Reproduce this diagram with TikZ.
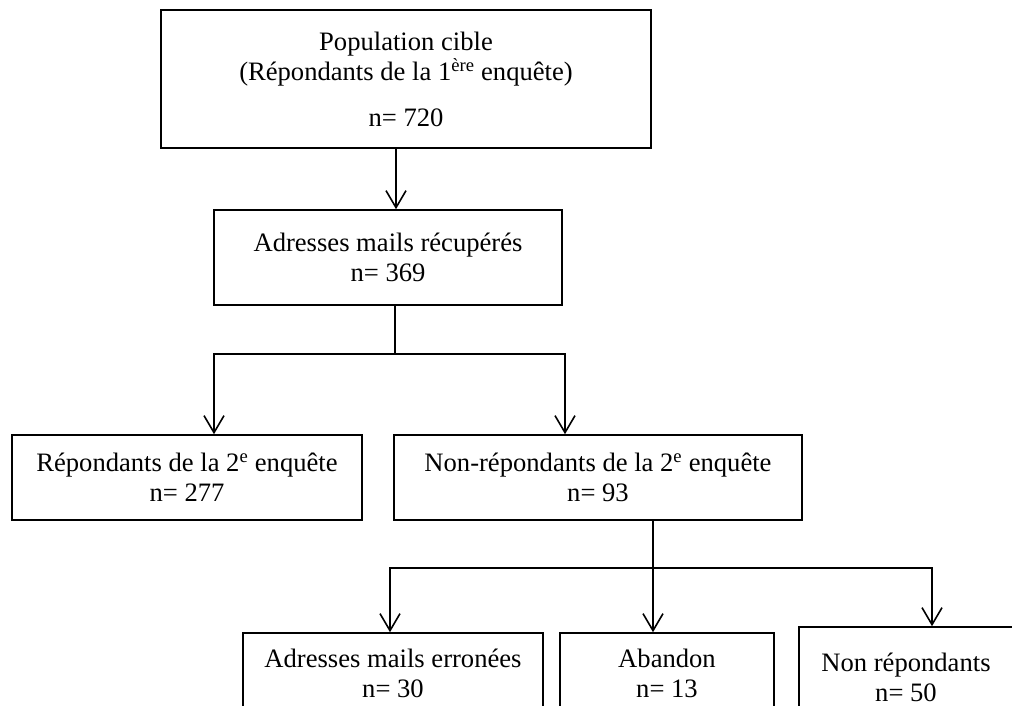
\documentclass[tikz,border=0pt]{standalone}
\usepackage{fontspec}
\setmainfont{Liberation Serif}
\usetikzlibrary{arrows.meta}

\tikzset{
  box/.style={draw, line width=1.6pt, align=center, inner sep=0pt},
  ln/.style={line width=1.6pt},
  arr/.style={ln, -{Straight Barb[length=17pt,width=20pt,line width=1.6pt]}}
}

\begin{document}
\begin{tikzpicture}[x=1pt,y=-1pt,font=\fontsize{26.6}{30}\selectfont]
  \useasboundingbox (0,0) rectangle (1012,705);

  \node (pop) [box,minimum width=490pt,minimum height=138pt] at (406,79)
    {Population cible\\(Répondants de la 1\textsuperscript{ère} enquête)\\[16pt]n= 720};
  \node (adr) [box,minimum width=348pt,minimum height=95pt] at (388,257.5)
    {Adresses mails récupérés\\n= 369};
  \node (rep) [box,minimum width=350pt,minimum height=85pt] at (187,477.5)
    {Répondants de la 2\textsuperscript{e} enquête\\n= 277};
  \node (nrep) [box,minimum width=408pt,minimum height=85pt] at (598,477.5)
    {Non-répondants de la 2\textsuperscript{e} enquête\\n= 93};
  \node (err) [box,minimum width=300pt,minimum height=81pt] at (393,673.5)
    {Adresses mails erronées\\n= 30};
  \node (aban) [box,minimum width=214pt,minimum height=81pt] at (667,673.5)
    {Abandon\\n= 13};
  \node (nonr) [box,minimum width=214pt,minimum height=101pt] at (906,677.5)
    {Non répondants\\n= 50};

  \draw[arr] ([xshift=-10pt]pop.south) -- ([xshift=-10pt]pop.south |- adr.north);

  \coordinate (j1) at ([xshift=7pt,yshift=-48pt]adr.south);
  \draw[ln] ([xshift=7pt]adr.south) -- (j1);
  \draw[arr] (j1) -| ([xshift=27pt]rep.north);
  \draw[arr] (j1) -| ([xshift=-33pt]nrep.north);

  \coordinate (j2) at ([xshift=55pt,yshift=-47pt]nrep.south);
  \draw[arr] ([xshift=55pt]nrep.south) -- ([xshift=55pt]nrep.south |- aban.north);
  \draw[arr] (j2) -| ([xshift=-3pt]err.north);
  \draw[arr] (j2) -| ([xshift=26pt]nonr.north);
\end{tikzpicture}
\end{document}
